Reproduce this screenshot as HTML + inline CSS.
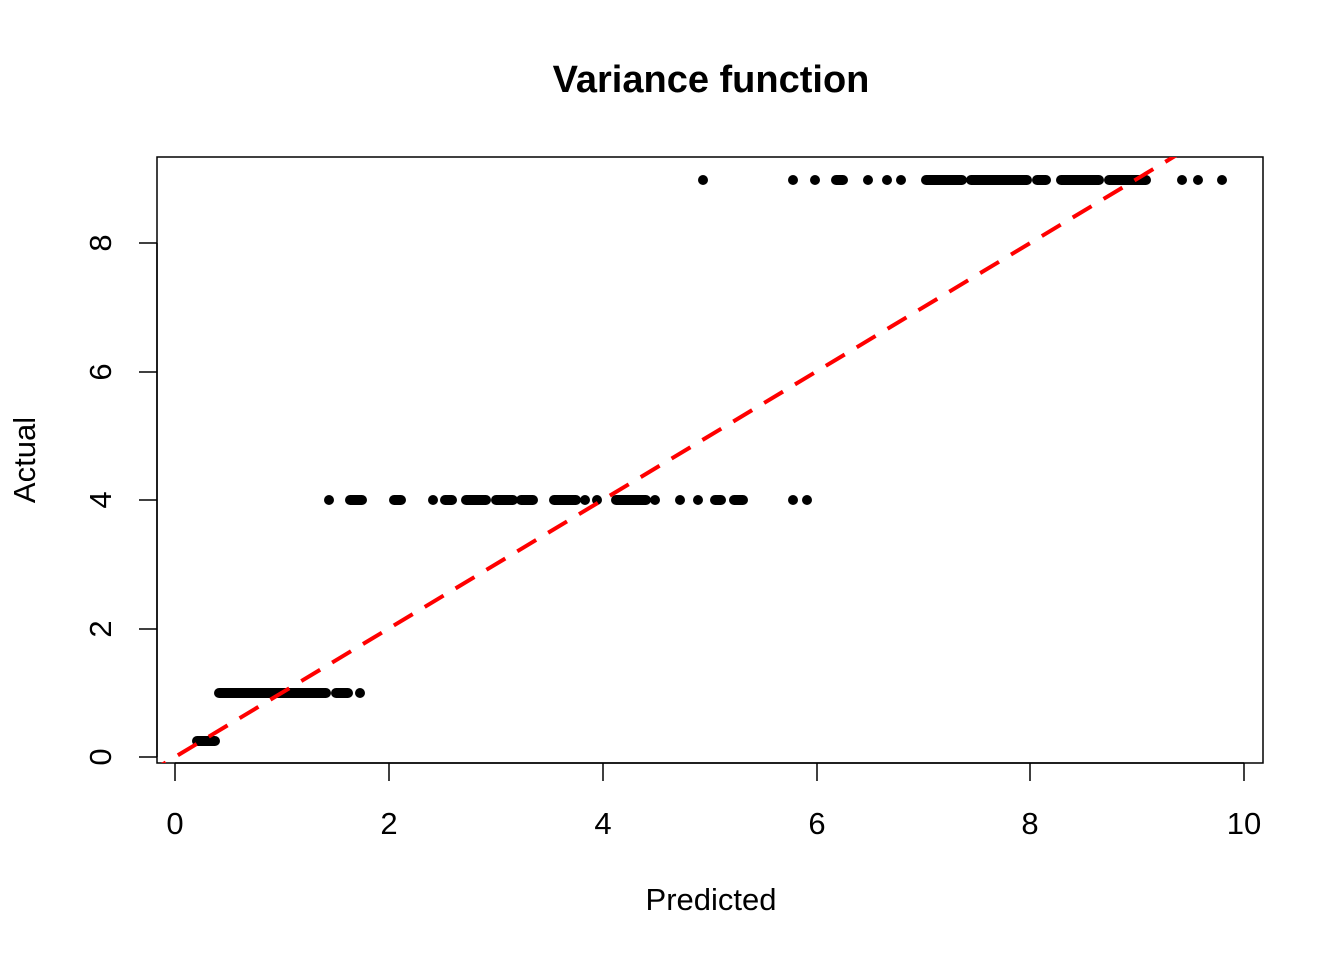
<!DOCTYPE html>
<html><head><style>body{margin:0;background:#fff}</style></head><body>
<svg width="1344" height="960" xmlns="http://www.w3.org/2000/svg" font-family="Liberation Sans, sans-serif">
<rect width="1344" height="960" fill="#fff"/>
<text x="711" y="92" font-size="38" font-weight="bold" text-anchor="middle">Variance function</text>
<rect x="157" y="157" width="1106" height="606" fill="none" stroke="#000" stroke-width="1.5"/>
<g stroke="#000" stroke-width="1.5">
<line x1="175" y1="763" x2="1244" y2="763"/>
<line x1="175" y1="763" x2="175" y2="781"/><line x1="389" y1="763" x2="389" y2="781"/><line x1="603" y1="763" x2="603" y2="781"/><line x1="817" y1="763" x2="817" y2="781"/><line x1="1030" y1="763" x2="1030" y2="781"/><line x1="1244" y1="763" x2="1244" y2="781"/>
<line x1="157" y1="243" x2="157" y2="757"/>
<line x1="139" y1="757" x2="157" y2="757"/><line x1="139" y1="629" x2="157" y2="629"/><line x1="139" y1="500" x2="157" y2="500"/><line x1="139" y1="372" x2="157" y2="372"/><line x1="139" y1="243" x2="157" y2="243"/>
</g>
<g font-size="31" text-anchor="middle">
<text x="175" y="834">0</text><text x="389" y="834">2</text><text x="603" y="834">4</text><text x="817" y="834">6</text><text x="1030" y="834">8</text><text x="1244" y="834">10</text>
<text transform="translate(111,757) rotate(-90)">0</text>
<text transform="translate(111,629) rotate(-90)">2</text>
<text transform="translate(111,500) rotate(-90)">4</text>
<text transform="translate(111,372) rotate(-90)">6</text>
<text transform="translate(111,243) rotate(-90)">8</text>
<text x="711" y="910">Predicted</text>
<text transform="translate(35,460) rotate(-90)">Actual</text>
</g>
<g fill="#000">
<rect x="192" y="736" width="28" height="10" rx="5"/>
<rect x="214" y="688" width="117" height="10" rx="5"/>
<rect x="331" y="688" width="22" height="10" rx="5"/>
<circle cx="360" cy="693" r="5"/>
<circle cx="329" cy="500" r="5"/><rect x="345" y="495" width="22" height="10" rx="5"/>
<rect x="389" y="495" width="17" height="10" rx="5"/><circle cx="433" cy="500" r="5"/><rect x="440" y="495" width="17" height="10" rx="5"/>
<rect x="461" y="495" width="30" height="10" rx="5"/><rect x="491" y="495" width="27" height="10" rx="5"/><rect x="516" y="495" width="22" height="10" rx="5"/>
<rect x="549" y="495" width="32" height="10" rx="5"/><circle cx="585" cy="500" r="5"/><circle cx="597" cy="500" r="5"/>
<rect x="611" y="495" width="40" height="10" rx="5"/><circle cx="655" cy="500" r="5"/><circle cx="680" cy="500" r="5"/><circle cx="698" cy="500" r="5"/><rect x="710" y="495" width="16" height="10" rx="5"/><rect x="729" y="495" width="19" height="10" rx="5"/>
<circle cx="793" cy="500" r="5"/><circle cx="807" cy="500" r="5"/>
<circle cx="703" cy="180" r="5"/><circle cx="793" cy="180" r="5"/><circle cx="815" cy="180" r="5"/><rect x="831" y="175" width="17" height="10" rx="5"/>
<circle cx="868" cy="180" r="5"/><circle cx="887" cy="180" r="5"/><circle cx="901" cy="180" r="5"/>
<rect x="921" y="175" width="46" height="10" rx="5"/><rect x="966" y="175" width="66" height="10" rx="5"/><rect x="1032" y="175" width="19" height="10" rx="5"/>
<rect x="1056" y="175" width="48" height="10" rx="5"/><rect x="1104" y="175" width="47" height="10" rx="5"/>
<circle cx="1182" cy="180" r="5"/><circle cx="1198" cy="180" r="5"/><circle cx="1222" cy="180" r="5"/>
</g>
<svg x="157" y="157" width="1106" height="606" overflow="hidden">
<line x1="-10" y1="616.8" x2="1040" y2="-14.2" stroke="#f00" stroke-width="4" stroke-dasharray="22,14"/>
</svg>
</svg>
</body></html>
